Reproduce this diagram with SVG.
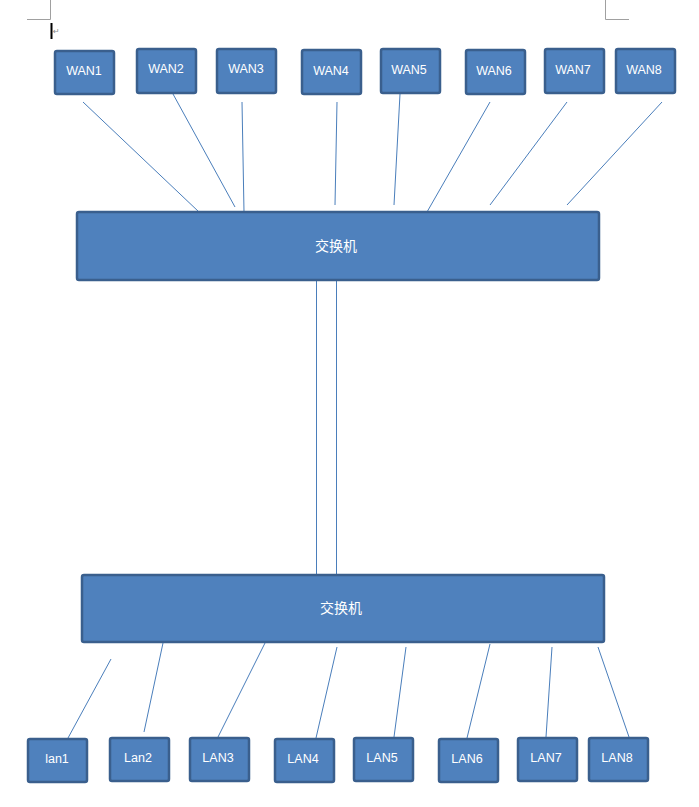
<svg xmlns="http://www.w3.org/2000/svg" width="699" height="807" viewBox="0 0 699 807">
<style>
.box{fill:#4f81bd;stroke:#3a5f8d;stroke-width:2.5}
.lbl{fill:#ffffff;font-family:"Liberation Sans",Arial,sans-serif;font-size:12.5px;text-anchor:middle}
.cn{fill:#ffffff;font-family:"Noto Sans CJK SC","Liberation Sans",sans-serif;font-size:14px;text-anchor:middle}
.ln{stroke:#4a7ebb;stroke-width:1;fill:none}
.mark{stroke:#a0a0a0;stroke-width:1;fill:none}
</style>
<rect width="699" height="807" fill="#ffffff"/>
<path class="mark" d="M50.5,0 V19.5 H27 M605.5,0 V19.5 H629"/>
<line x1="51.5" y1="23" x2="51.5" y2="39" stroke="#000" stroke-width="2"/>
<text x="53" y="34" font-family="DejaVu Sans,sans-serif" font-size="8" fill="#888">↵</text>
<g id="connectors">
<line class="ln" x1="83" y1="102" x2="199" y2="212"/>
<line class="ln" x1="173" y1="94" x2="235" y2="207"/>
<line class="ln" x1="242" y1="102" x2="244" y2="212"/>
<line class="ln" x1="337" y1="102" x2="335" y2="205"/>
<line class="ln" x1="400" y1="94" x2="394" y2="205"/>
<line class="ln" x1="490" y1="102" x2="427" y2="212"/>
<line class="ln" x1="567" y1="102" x2="490" y2="205"/>
<line class="ln" x1="662" y1="102" x2="567" y2="205"/>
<line class="ln" x1="316.5" y1="281" x2="316.5" y2="575"/>
<line class="ln" x1="336.5" y1="281" x2="336.5" y2="575"/>
<line class="ln" x1="111" y1="659" x2="68" y2="738"/>
<line class="ln" x1="163" y1="643" x2="144" y2="732"/>
<line class="ln" x1="265" y1="643" x2="218" y2="737"/>
<line class="ln" x1="337" y1="647" x2="316" y2="738"/>
<line class="ln" x1="406" y1="647" x2="394" y2="737"/>
<line class="ln" x1="490" y1="644" x2="467" y2="738"/>
<line class="ln" x1="552" y1="647" x2="546" y2="737"/>
<line class="ln" x1="598" y1="647" x2="629" y2="737"/>
</g>
<g id="wan1"><rect class="box" x="55" y="51" width="59" height="43" rx="2"/><text class="lbl" x="84" y="75">WAN1</text></g>
<g id="wan2"><rect class="box" x="137" y="49" width="59" height="44" rx="2"/><text class="lbl" x="166" y="73">WAN2</text></g>
<g id="wan3"><rect class="box" x="217" y="49" width="59" height="44" rx="2"/><text class="lbl" x="246" y="73">WAN3</text></g>
<g id="wan4"><rect class="box" x="302" y="50" width="59" height="44" rx="2"/><text class="lbl" x="331" y="75">WAN4</text></g>
<g id="wan5"><rect class="box" x="381" y="49" width="59" height="44" rx="2"/><text class="lbl" x="409" y="74">WAN5</text></g>
<g id="wan6"><rect class="box" x="466" y="50" width="59" height="44" rx="2"/><text class="lbl" x="494" y="75">WAN6</text></g>
<g id="wan7"><rect class="box" x="545" y="49" width="59" height="44" rx="2"/><text class="lbl" x="573" y="74">WAN7</text></g>
<g id="wan8"><rect class="box" x="616" y="49" width="59" height="44" rx="2"/><text class="lbl" x="644" y="74">WAN8</text></g>
<g id="switch1"><rect class="box" x="77" y="212" width="522" height="68" rx="2"/><text class="cn" x="336" y="251">交换机</text></g>
<g id="switch2"><rect class="box" x="82" y="575" width="522" height="67" rx="2"/><text class="cn" x="341" y="613">交换机</text></g>
<g id="lan1"><rect class="box" x="28" y="739" width="59" height="43" rx="2"/><text class="lbl" x="57" y="763">lan1</text></g>
<g id="lan2"><rect class="box" x="110" y="738" width="59" height="43" rx="2"/><text class="lbl" x="138" y="762">Lan2</text></g>
<g id="lan3"><rect class="box" x="190" y="738" width="59" height="43" rx="2"/><text class="lbl" x="218" y="762">LAN3</text></g>
<g id="lan4"><rect class="box" x="275" y="739" width="59" height="43" rx="2"/><text class="lbl" x="303" y="763">LAN4</text></g>
<g id="lan5"><rect class="box" x="354" y="738" width="59" height="43" rx="2"/><text class="lbl" x="382" y="762">LAN5</text></g>
<g id="lan6"><rect class="box" x="439" y="739" width="59" height="43" rx="2"/><text class="lbl" x="467" y="763">LAN6</text></g>
<g id="lan7"><rect class="box" x="518" y="738" width="59" height="43" rx="2"/><text class="lbl" x="546" y="762">LAN7</text></g>
<g id="lan8"><rect class="box" x="589" y="738" width="59" height="43" rx="2"/><text class="lbl" x="617" y="762">LAN8</text></g>
</svg>
